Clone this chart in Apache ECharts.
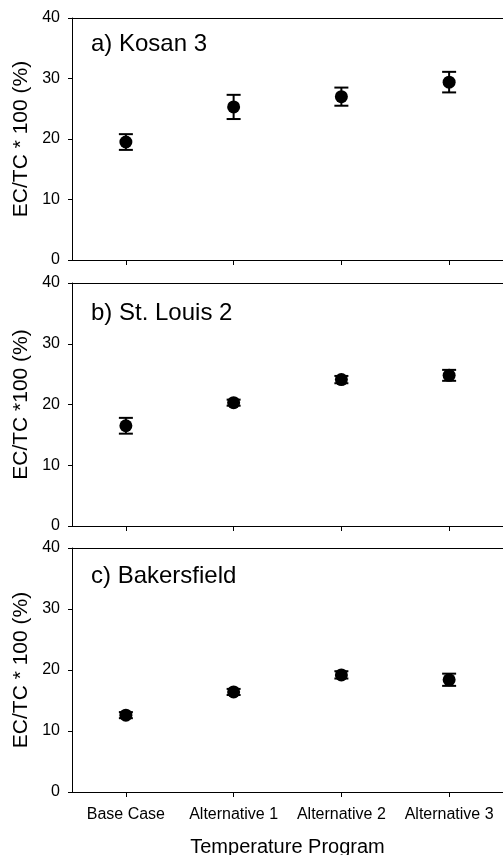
<!DOCTYPE html>
<html>
<head>
<meta charset="utf-8">
<script src="https://cdn.jsdelivr.net/npm/echarts@6/dist/echarts.min.js"></script>
<style>
  html, body { margin: 0; padding: 0; background: #fff; }
  #chart { width: 503px; height: 855px; }
</style>
</head>
<body>
<div id="chart"></div>
<script>
// categories and values
const categories = ['Base Case', 'Alternative 1', 'Alternative 2', 'Alternative 3'];
const yTicks = [0, 10, 20, 30, 40];

const kosanMean = [19.5, 25.3, 27.0, 29.4];
const kosanErr = [1.3, 2.0, 1.5, 1.7];

const stLouisMean = [16.5, 20.3, 24.1, 24.8];
const stLouisErr = [1.3, 0.5, 0.6, 0.9];

const bakersMean = [12.6, 16.4, 19.2, 18.4];
const bakersErr = [0.5, 0.5, 0.6, 1.0];

const panelTitles = ['a) Kosan 3', 'b) St. Louis 2', 'c) Bakersfield'];
const yNames = ['EC/TC * 100 (%)', 'EC/TC *100 (%)', 'EC/TC * 100 (%)'];

const font = 'Liberation Sans, Arial, sans-serif';
const chart = echarts.init(document.getElementById('chart'));

const panels = [
  { top: 18, height: 242, mean: kosanMean, err: kosanErr },
  { top: 283, height: 243, mean: stLouisMean, err: stLouisErr },
  { top: 548, height: 244, mean: bakersMean, err: bakersErr }
];

// error bar: vertical line plus two caps
function errorBarItem(params, api) {
  const x = api.coord([api.value(0), api.value(1)])[0];
  const hi = api.coord([api.value(0), api.value(2)])[1];
  const lo = api.coord([api.value(0), api.value(3)])[1];
  const half = 7;
  const style = { stroke: '#000', lineWidth: 2 };
  return {
    type: 'group',
    children: [
      { type: 'line', shape: { x1: x, y1: hi, x2: x, y2: lo }, style: style },
      { type: 'line', shape: { x1: x - half, y1: hi, x2: x + half, y2: hi }, style: style },
      { type: 'line', shape: { x1: x - half, y1: lo, x2: x + half, y2: lo }, style: style }
    ]
  };
}

const grids = [], xAxes = [], yAxes = [], series = [], titles = [];
const titleTops = [27, 296, 559];

panels.forEach(function (p, i) {
  grids.push({ left: 72, right: 0, top: p.top, height: p.height, outerBoundsMode: 'none', containLabel: false });
  const last = i === panels.length - 1;
  xAxes.push({
    type: 'category', gridIndex: i, data: categories, position: 'bottom',
    axisLine: { lineStyle: { color: '#000', width: 1 } },
    axisTick: { show: true, interval: 0, alignWithLabel: true, length: 5, lineStyle: { color: '#000' } },
    axisLabel: { show: last, interval: 0, color: '#000', fontSize: 16, fontFamily: font, margin: 15 },
    name: last ? 'Temperature Program' : '',
    nameLocation: 'middle', nameGap: 45,
    nameTextStyle: { color: '#000', fontSize: 20, fontFamily: font }
  });
  // top frame line of each panel
  xAxes.push({
    type: 'category', gridIndex: i, data: categories, position: 'top',
    axisLine: { lineStyle: { color: '#000', width: 1 } },
    axisTick: { show: false }, axisLabel: { show: false }
  });
  yAxes.push({
    type: 'value', gridIndex: i, min: 0, max: 40, interval: 10,
    axisLine: { show: true, lineStyle: { color: '#000', width: 1 } },
    axisTick: { show: true, length: 4, lineStyle: { color: '#000' } },
    splitLine: { show: false },
    axisLabel: {
      color: '#000', fontSize: 16, fontFamily: font, margin: 12,
      formatter: function (v) { return yTicks.indexOf(v) >= 0 ? String(v) : ''; }
    },
    name: yNames[i], nameLocation: 'middle', nameGap: 39,
    nameTextStyle: { color: '#000', fontSize: 21, fontFamily: font }
  });
  series.push({
    type: 'custom', xAxisIndex: 2 * i, yAxisIndex: i,
    renderItem: errorBarItem,
    encode: { x: 0, y: [2, 3] },
    data: p.mean.map(function (m, k) { return [k, m, m + p.err[k], m - p.err[k]]; }),
    z: 2
  });
  series.push({
    type: 'scatter', xAxisIndex: 2 * i, yAxisIndex: i,
    data: p.mean.map(function (m, k) { return [k, m]; }),
    symbol: 'circle', symbolSize: 13,
    itemStyle: { color: '#000', opacity: 1 },
    z: 3
  });
  titles.push({
    text: panelTitles[i], left: 86, top: titleTops[i],
    textStyle: { color: '#000', fontSize: 24, fontWeight: 'normal', fontFamily: font }
  });
});

chart.setOption({
  animation: false,
  backgroundColor: '#fff',
  title: titles,
  grid: grids,
  xAxis: xAxes,
  yAxis: yAxes,
  series: series
});
</script>
</body>
</html>
